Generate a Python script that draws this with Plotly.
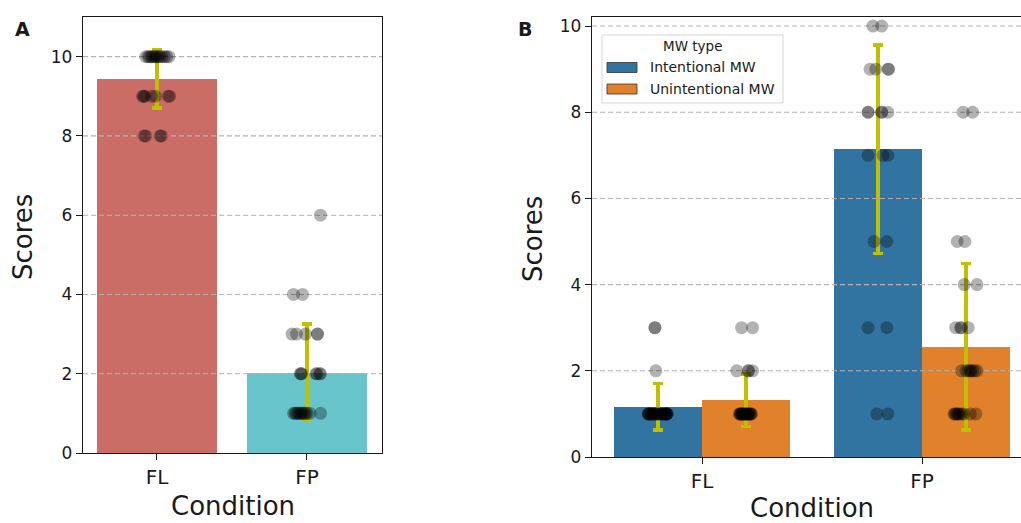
import plotly.graph_objects as go

W, H = 1021, 523

# ---------------- data ----------------
categories = ["FL", "FP"]
y_ticks = [0, 2, 4, 6, 8, 10]

# Panel A: mean scores and error half-widths
a_means = [9.44, 2.03]
a_err_plus = [0.74, 1.22]
a_err_minus = [0.74, 1.20]
a_colors = ["#cb6d67", "#67c5cb"]

# Panel A individual scores and their horizontal jitter
a_fl_scores = [10]*14 + [9]*7 + [8]*4
a_fl_jitter = [-0.075, -0.06, -0.05, -0.04, -0.03, -0.02, -0.01, 0.0, 0.01, 0.02, 0.035, 0.05, 0.065, 0.08,
               -0.095, -0.09, -0.08, -0.035, -0.01, 0.075, 0.085,
               -0.085, -0.075, 0.022, 0.03]
a_fp_scores = [6] + [4]*2 + [3]*5 + [2]*7 + [1]*12
a_fp_jitter = [0.09,
               -0.09, -0.03,
               -0.1, -0.07, -0.01, 0.07, 0.07,
               -0.045, -0.04, -0.035, 0.06, 0.065, 0.085, 0.09,
               -0.09, -0.08, -0.07, -0.06, -0.05, -0.04, -0.03, -0.02, -0.01, 0.0, 0.02, 0.09]

# Panel B: grouped by MW type
mw_types = ["Intentional MW", "Unintentional MW"]
mw_colors = ["#3274a1", "#e1812c"]
b_means = {"Intentional MW": [1.17, 7.14], "Unintentional MW": [1.32, 2.56]}
b_err = {"Intentional MW": [0.54, 2.42], "Unintentional MW": [0.61, 1.93]}

b_int_fl_scores = [3]*2 + [2] + [1]*24
b_int_fl_jitter = [-0.014, -0.014, -0.01] + [-0.045, -0.042, -0.04, -0.035, -0.03, -0.025, -0.02, -0.015, -0.01,
                                             -0.005, 0.0, 0.005, 0.01, 0.015, 0.02, 0.025, 0.03, 0.033, 0.036,
                                             0.038, 0.04, 0.042, -0.044, 0.041]
b_uni_fl_scores = [3]*2 + [2]*4 + [1]*19
b_uni_fl_jitter = [-0.02, 0.03,
                   -0.042, 0.01, 0.012, 0.03,
                   -0.03, -0.028, -0.025, -0.02, -0.018, -0.015, -0.01, -0.008, -0.005, 0.0,
                   0.003, 0.006, 0.01, 0.013, 0.016, 0.02, 0.022, 0.025, -0.022]
b_int_fp_scores = [10]*2 + [9]*4 + [8]*5 + [7]*3 + [5]*2 + [3]*2 + [1]*2
b_int_fp_jitter = [-0.023, 0.017,
                   -0.036, -0.01, 0.047, 0.047,
                   -0.045, -0.045, 0.017, 0.017, 0.045,
                   -0.045, 0.023, 0.045,
                   -0.018, 0.04,
                   -0.045, 0.04,
                   -0.006, 0.045]
b_uni_fp_scores = [8]*2 + [5]*2 + [4]*2 + [3]*4 + [2]*8 + [1]*10
b_uni_fp_jitter = [-0.013, 0.03,
                   -0.04, -0.005,
                   -0.008, 0.05,
                   -0.047, -0.023, -0.023, 0.01,
                   -0.02, 0.0, 0.01, 0.02, 0.02, 0.03, 0.04, 0.05,
                   -0.055, -0.05, -0.045, -0.04, -0.035, -0.03, -0.02, -0.01, 0.02, 0.045]

b_points = {
    ("Intentional MW", 0): (b_int_fl_scores, b_int_fl_jitter),
    ("Unintentional MW", 0): (b_uni_fl_scores, b_uni_fl_jitter),
    ("Intentional MW", 1): (b_int_fp_scores, b_int_fp_jitter),
    ("Unintentional MW", 1): (b_uni_fp_scores, b_uni_fp_jitter),
}

# ---------------- style ----------------
FONT = "DejaVu Sans"
ERR_COLOR = "#c0c000"
DOT_COLOR = "rgba(0,0,0,0.3)"
GRID_COLOR = "#b3b3b3"
AX_COLOR = "#1a1a1a"

xa_range = [-0.493, 1.5]
xb_range = [-0.5, 1.45]
ya_range = [0, 11.0]
yb_range = [0, 10.21]

fig = go.Figure()

# ----- Panel A bars -----
fig.add_trace(go.Bar(
    x=list(range(len(categories))), y=a_means, width=0.8,
    marker=dict(color=a_colors, line=dict(width=0)),
    error_y=dict(type="data", symmetric=False, array=a_err_plus, arrayminus=a_err_minus,
                 color=ERR_COLOR, thickness=3.5, width=5),
    xaxis="x", yaxis="y", showlegend=False, hoverinfo="skip"))

# ----- Panel B bars -----
hue_offsets = [-0.2, 0.2]
for hue, off, col in zip(mw_types, hue_offsets, mw_colors):
    fig.add_trace(go.Bar(
        x=[i + off for i in range(len(categories))], y=b_means[hue], width=0.4,
        marker=dict(color=col, line=dict(width=0)),
        error_y=dict(type="data", array=b_err[hue], color=ERR_COLOR, thickness=3.5, width=5),
        name=hue, xaxis="x2", yaxis="y2", showlegend=False, hoverinfo="skip"))

# ----- gridlines (above bars, below dots) -----
for t in y_ticks[1:]:
    fig.add_trace(go.Scatter(x=xa_range, y=[t, t], mode="lines",
                             line=dict(color=GRID_COLOR, width=1.1, dash="5px,3px"),
                             xaxis="x", yaxis="y", showlegend=False, hoverinfo="skip"))
    fig.add_trace(go.Scatter(x=xb_range, y=[t, t], mode="lines",
                             line=dict(color=GRID_COLOR, width=1.1, dash="5px,3px"),
                             xaxis="x2", yaxis="y2", showlegend=False, hoverinfo="skip"))

# ----- Panel A dots -----
for i, (scores, jit) in enumerate([(a_fl_scores, a_fl_jitter), (a_fp_scores, a_fp_jitter)]):
    fig.add_trace(go.Scatter(
        x=[i + j for j in jit], y=scores, mode="markers",
        marker=dict(size=13, color=DOT_COLOR, line=dict(width=0)),
        xaxis="x", yaxis="y", showlegend=False, hoverinfo="skip"))

# ----- Panel B dots -----
for (hue, ci), (scores, jit) in b_points.items():
    off = hue_offsets[mw_types.index(hue)]
    fig.add_trace(go.Scatter(
        x=[ci + off + j for j in jit], y=scores, mode="markers",
        marker=dict(size=13, color=DOT_COLOR, line=dict(width=0)),
        xaxis="x2", yaxis="y2", showlegend=False, hoverinfo="skip"))

def px(x):
    return x / W

def py(y):
    return 1 - y / H

axis_common = dict(showline=True, linecolor=AX_COLOR, linewidth=1.3, ticks="outside",
                   ticklen=6, tickwidth=1.3, tickcolor=AX_COLOR, showgrid=False,
                   zeroline=False, fixedrange=True, automargin=False)

fig.update_layout(
    width=W, height=H,
    margin=dict(l=0, r=0, t=0, b=0, pad=0, autoexpand=False),
    paper_bgcolor="white", plot_bgcolor="white",
    font=dict(family=FONT, color="#1a1a1a"),
    bargap=0, barmode="overlay",
    xaxis=dict(domain=[px(83), px(382)], range=xa_range, tickvals=[0, 1], ticktext=categories,
               tickfont=dict(size=20), mirror=True, anchor="y", **axis_common),
    yaxis=dict(domain=[py(453), py(17)], range=ya_range, tickvals=y_ticks,
               tickfont=dict(size=17), mirror=True, anchor="x", **axis_common),
    xaxis2=dict(domain=[px(592), 1.0], range=xb_range, tickvals=[0, 1], ticktext=categories,
                tickfont=dict(size=20), mirror=True, anchor="y2", **axis_common),
    yaxis2=dict(domain=[py(457), py(17)], range=yb_range, tickvals=y_ticks,
                tickfont=dict(size=17), mirror=False, anchor="x2", **axis_common),
)

annotations = [
    dict(text="<b>A</b>", x=px(22.5), y=py(29), font=dict(size=19)),
    dict(text="<b>B</b>", x=px(525), y=py(29), font=dict(size=19)),
    dict(text="Scores", x=px(23), y=py(237), textangle=-90, font=dict(size=26)),
    dict(text="Scores", x=px(533), y=py(239), textangle=-90, font=dict(size=26)),
    dict(text="Condition", x=px(232.5), y=py(506), font=dict(size=26)),
    dict(text="Condition", x=px(812), y=py(508), font=dict(size=26)),
    dict(text="MW type", x=px(692), y=py(46), font=dict(size=13.5)),
    dict(text=mw_types[0], x=px(648), y=py(67.5), xanchor="left", font=dict(size=14)),
    dict(text=mw_types[1], x=px(648), y=py(89), xanchor="left", font=dict(size=14)),
]
for a in annotations:
    a.setdefault("xanchor", "center")
    a.update(xref="paper", yref="paper", yanchor="middle", showarrow=False)
    a["font"]["family"] = FONT
    a["font"]["color"] = "#1a1a1a"
fig.update_layout(annotations=annotations)

shapes = [
    dict(type="rect", x0=px(602), x1=px(783), y0=py(103), y1=py(35),
         line=dict(color="#d5d5d5", width=1), fillcolor="rgba(255,255,255,0.85)", layer="above"),
    dict(type="rect", x0=px(607), x1=px(637), y0=py(72.5), y1=py(62.5),
         line=dict(color="#333333", width=0.8), fillcolor=mw_colors[0], layer="above"),
    dict(type="rect", x0=px(607), x1=px(637), y0=py(94), y1=py(84),
         line=dict(color="#333333", width=0.8), fillcolor=mw_colors[1], layer="above"),
]
for s in shapes:
    s.update(xref="paper", yref="paper")
fig.update_layout(shapes=shapes)

fig.write_html(
    "out.html",
    config={"displayModeBar": False},
    post_script="document.body.style.margin='0';document.body.style.overflow='hidden';",
)
